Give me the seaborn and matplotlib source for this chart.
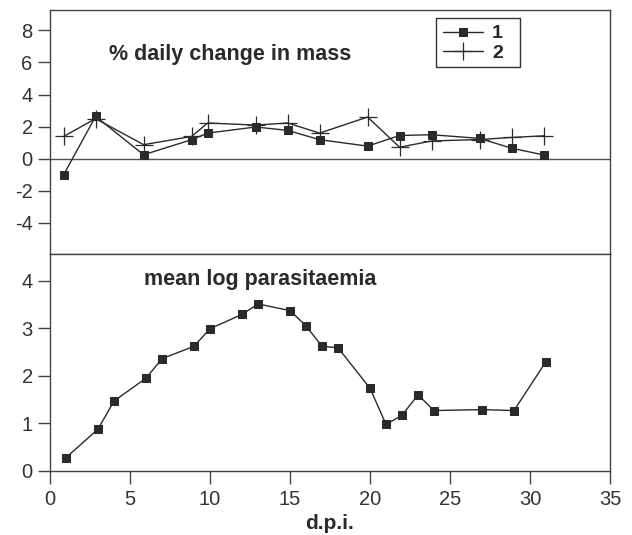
import matplotlib
matplotlib.use("Agg")
import matplotlib.pyplot as plt
import seaborn as sns
import pandas as pd
from matplotlib.patches import Rectangle

# ---- data ----
days_mass = [1, 3, 6, 9, 10, 13, 15, 17, 20, 22, 24, 27, 29, 31]
mass_change1 = [-1.00, 2.64, 0.25, 1.19, 1.60, 1.98, 1.77, 1.19, 0.79, 1.45, 1.50, 1.27, 0.66, 0.24]
mass_change2 = [1.39, 2.50, 0.88, 1.39, 2.23, 2.10, 2.23, 1.60, 2.60, 0.72, 1.11, 1.20, 1.33, 1.43]
days_para = [1, 3, 4, 6, 7, 9, 10, 12, 13, 15, 16, 17, 18, 20, 21, 22, 23, 24, 27, 29, 31]
log_para = [0.28, 0.88, 1.47, 1.95, 2.36, 2.62, 2.99, 3.29, 3.51, 3.37, 3.05, 2.62, 2.59,
            1.74, 0.98, 1.17, 1.60, 1.27, 1.29, 1.27, 2.30]
series_labels = ["1", "2"]
title_top = "% daily change in mass"
title_bottom = "mean log parasitaemia"
xlabel = "d.p.i."
yticks_top = [-4, -2, 0, 2, 4, 6, 8]
yticks_bottom = [0, 1, 2, 3, 4]
xticks_top = [5, 10, 15, 20, 25, 30]
xticks = [0, 5, 10, 15, 20, 25, 30, 35]

sns.set_style("white")
plt.rcParams["font.family"] = ["Liberation Sans", "DejaVu Sans"]
plt.rcParams["axes.unicode_minus"] = False

ink = "#2a2a2a"
fig = plt.figure(figsize=(6.32, 5.35), dpi=100)
ax1 = fig.add_axes([50 / 632, 1 - 253.5 / 535, 560 / 632, 244 / 535])
ax2 = fig.add_axes([50 / 632, 1 - 471 / 535, 560 / 632, 217.5 / 535])

df1 = pd.DataFrame({"x": days_mass, "y": mass_change1})
df2 = pd.DataFrame({"x": days_mass, "y": mass_change2})
dfp = pd.DataFrame({"x": days_para, "y": log_para})

sns.lineplot(data=df1, x="x", y="y", ax=ax1, color=ink, lw=1.0, marker="s",
             markersize=6, markeredgecolor=ink, markerfacecolor=ink,
             label=series_labels[0], sort=False, zorder=3)
sns.lineplot(data=df2, x="x", y="y", ax=ax1, color=ink, lw=1.0, marker="+",
             markersize=13, markeredgewidth=0.9, markeredgecolor=ink,
             label=series_labels[1], sort=False, zorder=3)
ax1.axhline(0, color="#555555", lw=1.0, zorder=1)

sns.lineplot(data=dfp, x="x", y="y", ax=ax2, color=ink, lw=1.0, marker="s",
             markersize=6, markeredgecolor=ink, markerfacecolor=ink, sort=False)

for ax in (ax1, ax2):
    for s in ax.spines.values():
        s.set_color("#444444")
        s.set_linewidth(1.0)
        s.set_visible(True)
    ax.set_xlabel("")
    ax.set_ylabel("")

tick_fs = 14.5
title_fs = 15.5

# upper panel is printed slightly offset from the lower one
ax1.set_xlim(0.15, 35.15)
ax1.set_ylim(-5.9, 9.3)
ax1.set_yticks(yticks_top)
ax1.set_xticks(xticks_top)
ax1.tick_params(axis="x", direction="in", length=9, width=1.0, color="#444444",
                labelbottom=False)
ax1.tick_params(axis="y", direction="out", length=9, width=1.0, color="#444444",
                labelsize=tick_fs, labelcolor="#333333", pad=3.5, left=True)
ax1.text(3.85, 6.5, title_top, fontsize=title_fs, fontweight="bold", color=ink,
         va="center", ha="left")

leg = ax1.legend(loc="upper left", bbox_to_anchor=(0.689, 0.965), frameon=False,
                 handlelength=2.05, handletextpad=0.5, borderpad=0.35,
                 labelspacing=0.1, borderaxespad=0,
                 prop={"weight": "bold", "size": 14})
ax1.add_patch(Rectangle((0.689, 0.764), 0.839 - 0.689, 0.965 - 0.764,
                        transform=ax1.transAxes, fill=False, edgecolor="#333333",
                        lw=1.0, zorder=5))

ax2.set_xlim(0, 35)
ax2.set_ylim(0, 4.57)
ax2.set_yticks(yticks_bottom)
ax2.set_xticks(xticks)
ax2.tick_params(axis="both", direction="out", length=9, width=1.0, color="#444444",
                labelsize=tick_fs, labelcolor="#333333", left=True, bottom=True)
ax2.tick_params(axis="y", pad=3.5)
ax2.tick_params(axis="x", pad=5)
ax2.text(5.9, 4.02, title_bottom, fontsize=title_fs, fontweight="bold", color=ink,
         va="center", ha="left")
ax2.set_xlabel(xlabel, fontsize=15, fontweight="bold", color=ink, labelpad=3)

fig.savefig("out.png", dpi=100)
